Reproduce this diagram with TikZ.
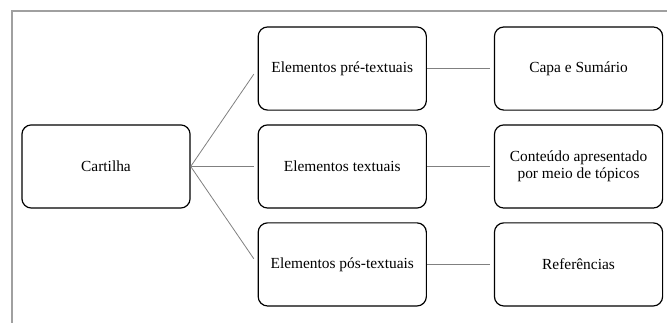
\documentclass[tikz,border=0pt]{standalone}
\usepackage{fontspec}
\setmainfont{Liberation Serif}
\usepackage{xcolor}
\usepackage{tikz}
\usetikzlibrary{positioning, calc}

\definecolor{linegray}{HTML}{808080}
\definecolor{framegray}{HTML}{A0A0A0}

\begin{document}
\begin{tikzpicture}[
        node distance=0.36cm and 1.77cm,
        box/.style={
            draw,
            line width=0.9pt,
            rounded corners=0.25cm,
            align=center,
            minimum width=4.45cm,
            minimum height=2.2cm,
            font=\fontsize{11.6}{13}\selectfont
        },
        link/.style={
            draw=linegray,
            line width=0.6pt
        }
    ]

    % Page margins
    \useasboundingbox (-2.805,-4.141) rectangle (14.844,4.405);

    % Open frame around the figure
    \coordinate (frametop) at (14.844,4.114);
    \coordinate (framecorner) at (-2.487,4.114);
    \coordinate (framebottom) at (-2.487,-4.141);
    \draw[framegray, line width=0.8pt]
        (frametop) -- (framecorner) -- (framebottom);

    % Root
    \node[box] (cartilha) {Cartilha};

    % Middle column
    \node[box, right=of cartilha] (textuais) {Elementos textuais};
    \node[box, above=of textuais] (pretextuais) {Elementos pré-textuais};
    \node[box, below=of textuais] (postextuais) {Elementos pós-textuais};

    % Right column
    \node[box, right=of pretextuais] (capa) {Capa e Sumário};
    \node[box, right=of textuais] (conteudo) {
        Conteúdo apresentado\\
        por meio de tópicos
    };
    \node[box, right=of postextuais] (referencias) {Referências};

    % Fan from the root
    \draw[link] (cartilha.east) -- ([xshift=-0.1cm, yshift=-0.15cm]pretextuais.west);
    \draw[link] (cartilha.east) -- ([xshift=-0.1cm]textuais.west);
    \draw[link] (cartilha.east) -- ([xshift=-0.1cm, yshift=0.15cm]postextuais.west);

    % Second level links
    \draw[link] (pretextuais.east) -- ([xshift=-0.1cm]capa.west);
    \draw[link] (textuais.east) -- ([xshift=-0.1cm]conteudo.west);
    \draw[link] (postextuais.east) -- ([xshift=-0.1cm]referencias.west);

\end{tikzpicture}
\end{document}
